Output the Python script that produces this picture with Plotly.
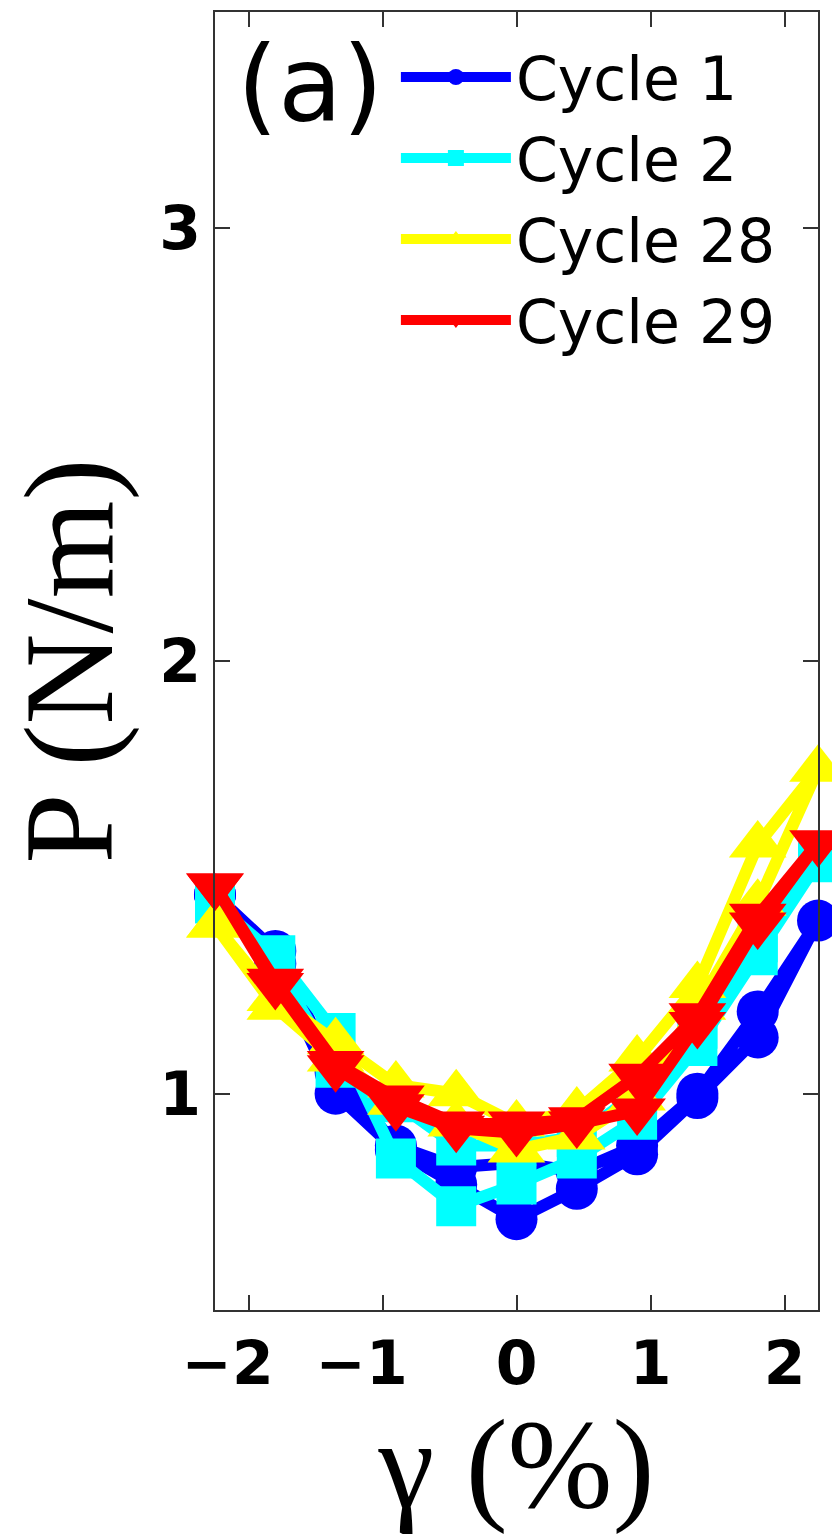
import plotly.graph_objects as go

# strain amplitude grid (%), loop: -2.25 -> 2.25 -> -2.25
gamma = [-2.25, -1.8, -1.35, -0.9, -0.45, 0.0, 0.45, 0.9, 1.35, 1.8, 2.25,
         1.8, 1.35, 0.9, 0.45, 0.0, -0.45, -0.9, -1.35, -1.8, -2.25]

cycle1 = [1.46, 1.30, 1.00, 0.87, 0.79, 0.71, 0.78, 0.86, 0.99, 1.13, 1.40,
          1.19, 1.00, 0.88, 0.82, 0.84, 0.83, 0.88, 1.05, 1.33, 1.46]
cycle2 = [1.44, 1.32, 1.14, 0.85, 0.74, 0.79, 0.85, 0.94, 1.11, 1.32, 1.535,
          1.35, 1.15, 1.00, 0.90, 0.88, 0.88, 0.98, 1.06, 1.30, 1.44]
cycle28 = [1.39, 1.20, 1.08, 0.98, 0.93, 0.87, 0.90, 0.99, 1.20, 1.44, 1.75,
           1.575, 1.25, 1.08, 0.96, 0.93, 1.00, 1.02, 1.12, 1.22, 1.39]
cycle29 = [1.48, 1.25, 1.06, 0.97, 0.92, 0.91, 0.93, 0.96, 1.16, 1.39, 1.58,
           1.41, 1.18, 1.04, 0.94, 0.93, 0.93, 0.99, 1.07, 1.26, 1.48]

x_ticks = [-2, -1, 0, 1, 2]
x_tick_labels = ["\u22122\u2007", "\u22121\u2007", "0", "1", "2"]
y_ticks = [1, 2, 3]

names = ["Cycle 1", "Cycle 2", "Cycle 28", "Cycle 29"]
colors = ["#0000ff", "#00ffff", "#ffff00", "#ff0000"]
symbols = ["circle", "square", "triangle-up", "triangle-down"]
sizes = [42, 40, 50, 50]

fig = go.Figure()
for ys, nm, c, sym, sz in zip([cycle1, cycle2, cycle28, cycle29], names, colors, symbols, sizes):
    fig.add_trace(go.Scatter(
        x=gamma, y=ys, name=nm, mode="lines+markers",
        line=dict(color=c, width=12),
        marker=dict(color=c, symbol=sym, size=sz, line=dict(width=0)),
        cliponaxis=False,
    ))

axis_common = dict(
    showline=True, linecolor="#333333", linewidth=2, mirror="ticks",
    ticks="inside", ticklen=15, tickwidth=2, tickcolor="#333333",
    showgrid=False, zeroline=False, tickangle=0, automargin=False,
    tickfont=dict(family="DejaVu Sans", size=60, color="black", weight="bold"),
)

fig.update_layout(
    width=832, height=1535,
    margin=dict(l=215, r=14, t=12, b=225),
    paper_bgcolor="white", plot_bgcolor="white",
    xaxis=dict(range=[-2.25, 2.25], tickvals=x_ticks, ticktext=x_tick_labels,
               title=dict(text="\u03b3 (%)", font=dict(family="Liberation Serif", size=126, color="black"), standoff=10),
               **axis_common),
    yaxis=dict(range=[0.5, 3.5], tickvals=y_ticks,
               title=dict(text="P (N/m)", font=dict(family="Liberation Serif", size=126, color="black"), standoff=20),
               **axis_common),
    showlegend=True,
    legend=dict(x=0.3, y=0.985, xanchor="left", yanchor="top",
                bgcolor="rgba(0,0,0,0)", borderwidth=0,
                font=dict(family="DejaVu Sans", size=60, color="black"),
                itemwidth=110, tracegroupgap=0),
    annotations=[dict(text="(a)", x=0.0, y=1.0, xref="paper", yref="paper",
                      xanchor="left", yanchor="top", xshift=20, yshift=-10,
                      showarrow=False,
                      font=dict(family="DejaVu Sans", size=105, color="black"))],
)

fig.write_html("out.html")
